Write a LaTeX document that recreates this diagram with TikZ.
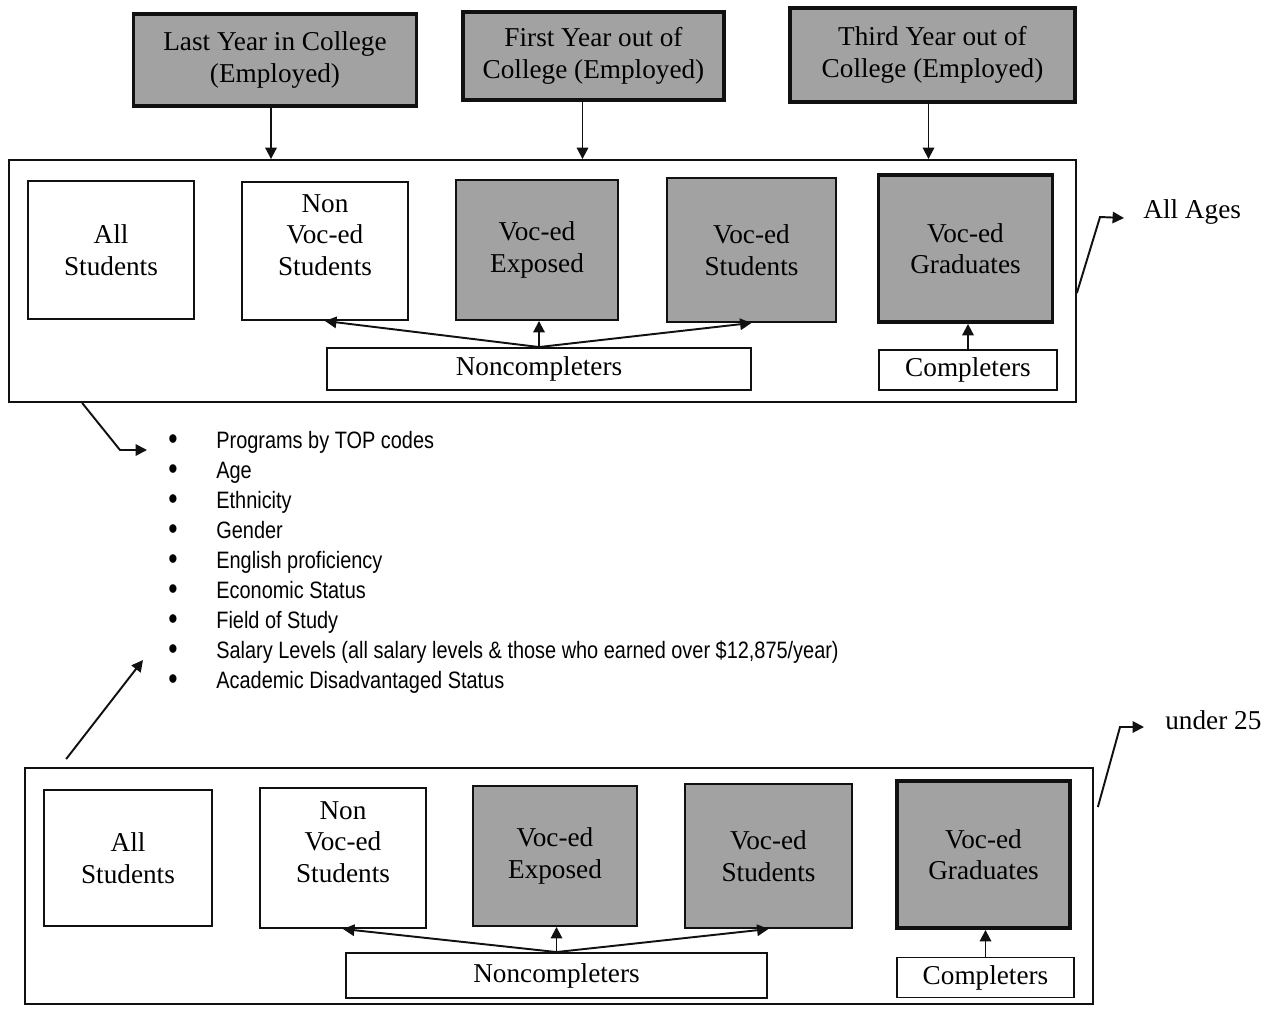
\documentclass[tikz,border=0pt]{standalone}
\usepackage{fontspec}
\setmainfont{Liberation Serif}
\newfontfamily\listfont[FakeStretch=0.84]{Liberation Sans}
\usetikzlibrary{positioning,calc,arrows.meta}
\definecolor{vocShade}{HTML}{A2A2A2}
\definecolor{vocLine}{HTML}{111111}
\newcommand{\boxfont}{\fontsize{15.5}{18}\selectfont}
\newcommand{\factorfont}{\listfont\fontsize{13.5}{17.07}\selectfont}
\newcommand{\factoritem}[1]{\makebox[0.96cm][l]{\raisebox{-0.6pt}{\fontsize{18}{18}\selectfont\textbullet}}#1}
\tikzset{
  year box/.style={
    rectangle, draw=vocLine, line width=2.2pt,
    fill=vocShade, align=center, font=\boxfont,
    minimum width=5.66cm, minimum height=1.84cm,
  },
  frame box/.style={
    rectangle, draw=vocLine, line width=1.1pt, inner sep=0pt,
  },
  group box/.style={
    rectangle, draw=vocLine, line width=1.1pt,
    align=center, font=\boxfont,
    minimum width=3.32cm, minimum height=2.76cm,
  },
  group text/.style={align=center, font=\boxfont, inner sep=0pt},
  voc box/.style={group box, fill=vocShade},
  grad box/.style={voc box, line width=2.2pt,
    minimum width=3.48cm, minimum height=2.94cm},
  count box/.style={
    rectangle, draw=vocLine, line width=1.1pt,
    font=\boxfont, minimum height=0.84cm,
  },
  side label/.style={font=\boxfont, inner sep=0pt, anchor=base west},
  link arrow/.style={
    draw=vocLine, line width=1.1pt,
    -{Triangle[length=6.5pt,width=6.5pt]},
  },
}

\begin{document}
\begin{tikzpicture}[x=0.02cm, y=-0.02cm]
\useasboundingbox (0,0) rectangle (1266,1011);

%% time points ======================================================
\node[year box] (lastYear) at (275, 60) {Last Year in College\\(Employed)};
\node[year box, minimum width=5.22cm, minimum height=1.76cm]
  (firstYear) at (593.5, 56) {First Year out of\\College (Employed)};
\node[year box, minimum width=5.7cm, minimum height=1.88cm]
  (thirdYear) at (932.5, 55) {Third Year out of\\College (Employed)};

%% all ages =========================================================
\node[frame box, minimum width=21.34cm, minimum height=4.84cm]
  (allAgesFrame) at (542.5, 281) {};

\node[group box] (allStudA) at (111, 250) {All\\Students};
\node[group box] (nonVocA) at (325, 251) {};
\node[group text] (nonVocAText) at (325, 235) {Non\\Voc-ed\\Students};
\node[voc box, minimum width=3.24cm, minimum height=2.8cm]
  (vocExpA) at (537, 250) {Voc-ed\\Exposed};
\node[voc box, minimum width=3.38cm, minimum height=2.88cm]
  (vocStuA) at (751.5, 250) {Voc-ed\\Students};
\node[grad box] (vocGradA) at (965.5, 248.5) {Voc-ed\\Graduates};
\node[count box, minimum width=8.48cm] (noncompA) at (539, 369) {Noncompleters};
\node[count box, minimum width=3.56cm, minimum height=0.8cm]
  (compA) at (968, 370) {Completers};

\draw[link arrow] ([xshift=-0.08cm]lastYear.south) -- ([xshift=-0.08cm]lastYear.south |- allAgesFrame.north);
\draw[link arrow] ([xshift=-0.22cm]firstYear.south) -- ([xshift=-0.22cm]firstYear.south |- allAgesFrame.north);
\draw[link arrow] ([xshift=-0.08cm]thirdYear.south) -- ([xshift=-0.08cm]thirdYear.south |- allAgesFrame.north);

\draw[link arrow] (noncompA.north) -- (nonVocA.south);
\draw[link arrow] (noncompA.north) -- (noncompA.north |- vocExpA.south);
\draw[link arrow] (noncompA.north) -- (vocStuA.south);
\draw[link arrow] (compA.north) -- (compA.north |- vocGradA.south);

\node[side label] (allAgesLbl) at (1143, 218) {All Ages};
\draw[link arrow] ([yshift=-0.24cm]allAgesFrame.east) -- (1100, 217)
  -- ([xshift=-0.38cm]allAgesLbl.base west);

%% break-downs ======================================================
\node[anchor=north west, inner sep=0pt, align=left, font=\factorfont]
  (factors) at (168, 431) {%
    \factoritem{Programs by TOP codes}\\
    \factoritem{Age}\\
    \factoritem{Ethnicity}\\
    \factoritem{Gender}\\
    \factoritem{English proficiency}\\
    \factoritem{Economic Status}\\
    \factoritem{Field of Study}\\
    \factoritem{Salary Levels (all salary levels \& those who earned over \$12,875/year)}\\
    \factoritem{Academic Disadvantaged Status}
  };
\coordinate (factorsTop) at (147, 450);
\coordinate (factorsLow) at (143, 660);

\draw[link arrow] ([xshift=1.48cm]allAgesFrame.south west) -- (120, 450) -- (factorsTop);

%% under 25 =========================================================
\node[frame box, minimum width=21.36cm, minimum height=4.72cm]
  (underFrame) at (559, 886) {};

\node[group box, minimum width=3.36cm, minimum height=2.72cm]
  (allStudB) at (128, 858) {All\\Students};
\node[group box, minimum height=2.8cm] (nonVocB) at (343, 858) {};
\node[group text] (nonVocBText) at (343, 842) {Non\\Voc-ed\\Students};
\node[voc box, minimum width=3.28cm, minimum height=2.8cm]
  (vocExpB) at (555, 856) {Voc-ed\\Exposed};
\node[voc box, minimum width=3.34cm, minimum height=2.88cm]
  (vocStuB) at (768.5, 856) {Voc-ed\\Students};
\node[grad box, minimum width=3.46cm] (vocGradB) at (983.5, 854.5) {Voc-ed\\Graduates};
\node[count box, minimum width=8.42cm, minimum height=0.9cm]
  (noncompB) at (556.5, 975.5) {Noncompleters};
\node[count box, minimum width=3.54cm, minimum height=0.8cm]
  (compB) at (985.5, 977.5) {Completers};

\draw[link arrow] (noncompB.north) -- (nonVocB.south);
\draw[link arrow] (noncompB.north) -- (noncompB.north |- vocExpB.south);
\draw[link arrow] (noncompB.north) -- (vocStuB.south);
\draw[link arrow] (compB.north) -- (compB.north |- vocGradB.south);

\node[side label] (underLbl) at (1165, 729) {under 25};
\draw[link arrow] ([xshift=0.08cm, yshift=1.58cm]underFrame.east) -- (1120, 727)
  -- ([xshift=-0.42cm, yshift=0.04cm]underLbl.base west);

\draw[link arrow] ([xshift=0.84cm, yshift=0.16cm]underFrame.north west) -- (factorsLow);

\end{tikzpicture}
\end{document}
